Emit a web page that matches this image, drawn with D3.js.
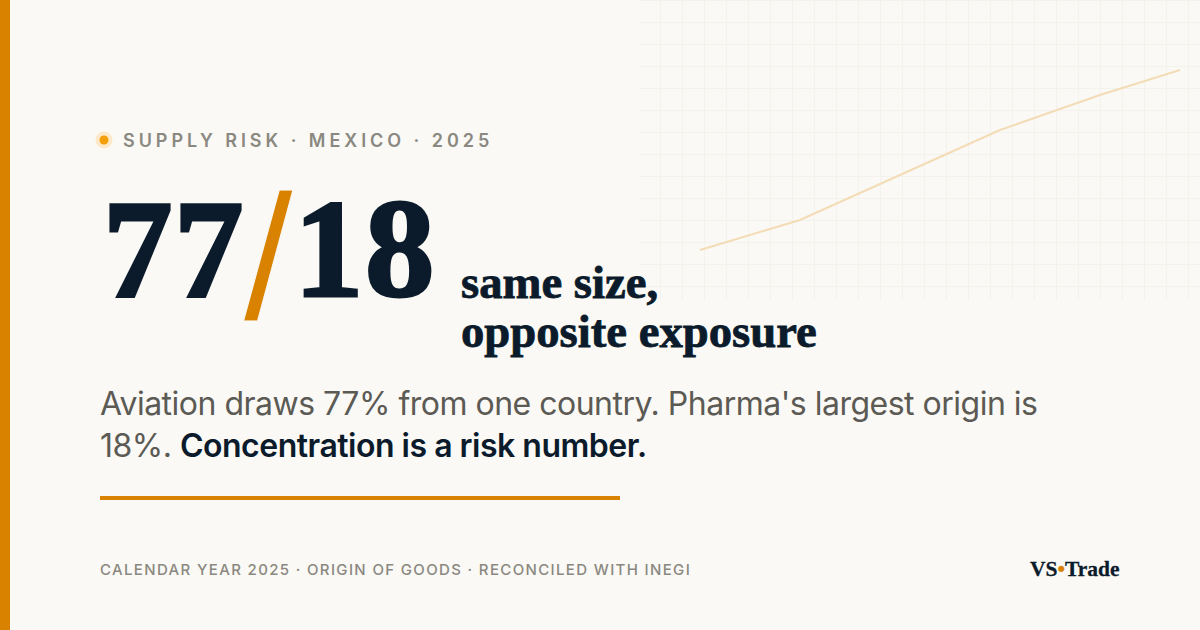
<!doctype html>
<html lang="en">

<head>
    <meta charset="utf-8">
    <title>Supply risk card</title>
    <script src="https://cdn.jsdelivr.net/npm/d3@7/dist/d3.min.js"></script>
    <style>
        html, body { margin: 0; padding: 0; background: #faf9f5; }
        svg { display: block; }
        .serif { font-family: "Liberation Serif", serif; font-weight: 700; fill: #0b1b2b; stroke: #0b1b2b; }
        .sans { font-family: Inter, sans-serif; }
    </style>
</head>

<body>
    <svg id="card" width="1200" height="630"></svg>

    <script>
        // sparkline behind the headline
        var sparkSteps = [0, 100, 200, 300, 400, 480];
        var sparkValues = [0, 30, 75, 120, 155, 180];

        var headlineValues = [77, 18];
        var eyebrow = "SUPPLY RISK · MEXICO · 2025";
        var subLines = ["same size,", "opposite exposure"];
        var bodyLine1 = "Aviation draws 77% from one country. Pharma's largest origin is";
        var bodyLine2 = "18%. ";
        var bodyStrong = "Concentration is a risk number.";
        var footer = "CALENDAR YEAR 2025 · ORIGIN OF GOODS · RECONCILED WITH INEGI";

        var paper = "#faf9f5";
        var amber = "#d98200";
        var svg = d3.select("#card");

        svg.append("rect").attr("width", 1200).attr("height", 630).attr("fill", paper);
        svg.append("rect").attr("width", 10).attr("height", 630).attr("fill", amber);

        // background grid
        var grid = svg.append("g").attr("stroke", "#f3f2ed").attr("stroke-width", 1);
        d3.range(660, 1200, 22).forEach(function (x) {
            grid.append("line").attr("x1", x + 0.5).attr("x2", x + 0.5).attr("y1", 0).attr("y2", 300);
        });
        d3.range(0, 300, 22).forEach(function (y) {
            grid.append("line").attr("x1", 640).attr("x2", 1200).attr("y1", y + 0.5).attr("y2", y + 0.5);
        });

        var x = d3.scaleLinear().domain([0, 480]).range([700, 1180]);
        var y = d3.scaleLinear().domain([0, 180]).range([250, 70]);
        var line = d3.line()
            .x(function (d, i) { return x(sparkSteps[i]); })
            .y(function (d) { return y(d); });
        svg.append("path")
            .attr("d", line(sparkValues))
            .attr("fill", "none")
            .attr("stroke", "#f3dcb6")
            .attr("stroke-width", 2);

        // eyebrow
        svg.append("circle").attr("cx", 104).attr("cy", 140).attr("r", 8.5).attr("fill", "#fde9c8");
        svg.append("circle").attr("cx", 104).attr("cy", 140).attr("r", 4.5).attr("fill", "#f59e0b");
        svg.append("text").attr("class", "sans")
            .attr("x", 123).attr("y", 147)
            .attr("font-size", 18).attr("font-weight", 600)
            .attr("letter-spacing", 3.96).attr("fill", "#8a8880")
            .text(eyebrow);

        // headline
        svg.append("text").attr("class", "serif")
            .attr("x", 103).attr("y", 295.5)
            .attr("font-size", 139).attr("stroke-width", 3)
            .attr("letter-spacing", 1.5)
            .text(headlineValues[0]);
        svg.append("text")
            .attr("x", 243.5).attr("y", 319)
            .attr("font-family", "'Liberation Sans', sans-serif")
            .attr("font-size", 178).attr("fill", amber)
            .attr("stroke", paper).attr("stroke-width", 1)
            .text("/");
        svg.append("text").attr("class", "serif")
            .attr("x", 294).attr("y", 295.5)
            .attr("font-size", 139).attr("stroke-width", 3)
            .attr("letter-spacing", 1.5)
            .text(headlineValues[1]);

        svg.selectAll("text.sub").data(subLines).join("text")
            .attr("class", "serif sub")
            .attr("x", 461)
            .attr("y", function (d, i) { return 297.5 + i * 49; })
            .attr("font-size", 46.7).attr("stroke-width", 0.8)
            .text(function (d) { return d; });

        // body copy
        var body = svg.append("g").attr("class", "sans").attr("font-size", 32)
            .attr("letter-spacing", -0.5).attr("fill", "#5c5a54");
        body.append("text").attr("x", 100).attr("y", 415).text(bodyLine1);
        var second = body.append("text").attr("x", 100).attr("y", 457);
        second.append("tspan").text(bodyLine2);
        second.append("tspan").attr("font-weight", 600).attr("fill", "#0b1b2b").text(bodyStrong);

        svg.append("rect").attr("x", 100).attr("y", 496).attr("width", 520).attr("height", 4).attr("fill", amber);

        // footer
        svg.append("text").attr("class", "sans")
            .attr("x", 100).attr("y", 575)
            .attr("font-size", 15).attr("font-weight", 500)
            .attr("letter-spacing", 1.35).attr("fill", "#8a8880")
            .text(footer);

        var brand = svg.append("text").attr("class", "serif")
            .attr("x", 1030).attr("y", 576)
            .attr("font-size", 21.5).attr("stroke-width", 0.3);
        brand.append("tspan").text("VS");
        brand.append("tspan").attr("fill", amber).attr("stroke", amber).text("•");
        brand.append("tspan").text("Trade");
    </script>
</body>

</html>
